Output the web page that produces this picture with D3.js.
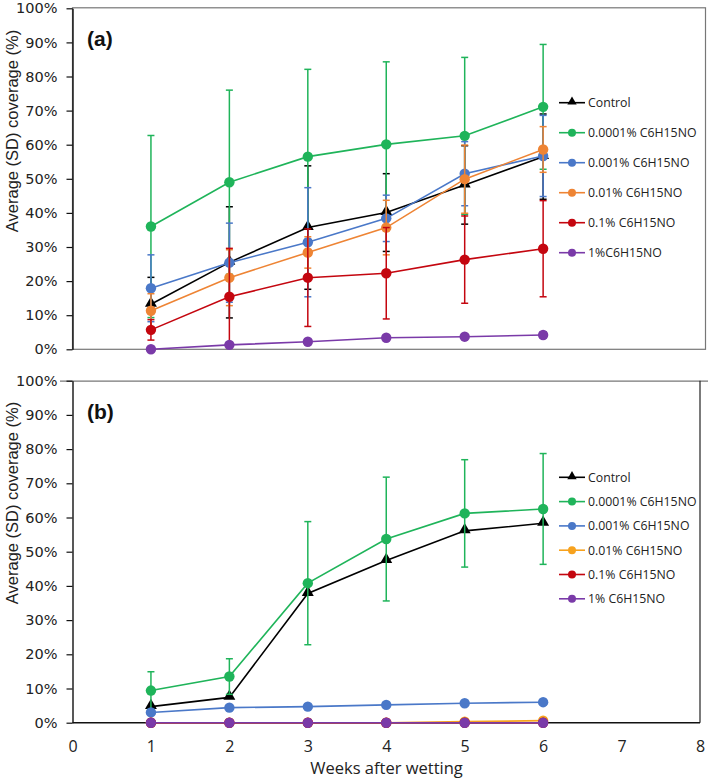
<!DOCTYPE html>
<html><head><meta charset="utf-8">
<script src="https://cdn.jsdelivr.net/npm/d3@7"></script>
<style>body{margin:0;background:#fff}svg{display:block}</style>
</head><body>
<svg id="chart" width="708" height="780"></svg>
<script>
// ---------- data ----------
const weeks = [1, 2, 3, 4, 5, 6];
const xTicks = [0, 1, 2, 3, 4, 5, 6, 7, 8];
const yTicks = [0, 10, 20, 30, 40, 50, 60, 70, 80, 90, 100];

const labelsA = ["Control", "0.0001% C6H15NO", "0.001% C6H15NO", "0.01% C6H15NO", "0.1% C6H15NO", "1%C6H15NO"];
const labelsB = ["Control", "0.0001% C6H15NO", "0.001% C6H15NO", "0.01% C6H15NO", "0.1% C6H15NO", "1% C6H15NO"];

const colorsA = ["#000000", "#1fb45a", "#4a78c8", "#ee8434", "#c4060f", "#7a3aa8"];
const colorsB = ["#000000", "#1fb45a", "#4a78c8", "#f7a21e", "#c4060f", "#7a3aa8"];

// panel (a) means and SDs (%)
const controlA   = [13.2, 25.5, 35.7, 40.1, 48.2, 56.5];
const controlSdA = [7.9, 16.3, 18.1, 11.4, 11.5, 12.5];
const c0001A     = [36.0, 49.0, 56.5, 60.1, 62.6, 71.1];
const c0001SdA   = [26.7, 27.0, 25.6, 24.2, 23.0, 18.3];
const c001A      = [17.9, 25.4, 31.4, 38.4, 51.5, 56.7];
const c001SdA    = [9.8, 11.6, 16.0, 6.8, 9.4, 11.9];
const c01A       = [11.3, 21.0, 28.4, 35.7, 49.9, 58.6];
const c01SdA     = [5.0, 8.2, 4.6, 8.0, 10.0, 6.7];
const c1A        = [5.7, 15.4, 21.0, 22.3, 26.3, 29.5];
const c1SdA      = [3.0, 14.2, 14.3, 13.4, 12.8, 14.1];
const c10A       = [0.0, 1.3, 2.2, 3.4, 3.7, 4.2];
const c10SdA     = [0.0, 0.3, 0.4, 0.4, 0.5, 0.9];

// panel (b) means and SDs (%)
const controlB   = [4.7, 7.4, 37.8, 47.4, 56.1, 58.3];
const c0001B     = [9.4, 13.5, 40.8, 53.7, 61.2, 62.5];
const c0001SdB   = [5.5, 5.2, 18.0, 18.1, 15.7, 16.2];
const c001B      = [3.0, 4.4, 4.7, 5.2, 5.7, 6.0];
const c01B       = [0.0, 0.0, 0.0, 0.0, 0.3, 0.6];
const c1B        = [0.0, 0.0, 0.0, 0.0, 0.0, 0.0];
const c10B       = [0.0, 0.0, 0.0, 0.0, 0.0, 0.0];

const seriesA = [
  {vals: controlA, sd: controlSdA, tri: true},
  {vals: c0001A, sd: c0001SdA},
  {vals: c001A, sd: c001SdA},
  {vals: c01A, sd: c01SdA},
  {vals: c1A, sd: c1SdA},
  {vals: c10A, sd: c10SdA}
].map((s, i) => ({...s, label: labelsA[i], color: colorsA[i]}));

const seriesB = [
  {vals: controlB, sd: null, tri: true},
  {vals: c0001B, sd: c0001SdB},
  {vals: c001B, sd: null},
  {vals: c01B, sd: null},
  {vals: c1B, sd: null},
  {vals: c10B, sd: null}
].map((s, i) => ({...s, label: labelsB[i], color: colorsB[i]}));

// ---------- drawing ----------
const svg = d3.select("#chart");
const x = d3.scaleLinear().domain([0, 8]).range([72.5, 700]);

function panel(cfg) {
  const y = d3.scaleLinear().domain([0, 100]).range([cfg.y0, cfg.y1]);
  const g = svg.append("g");

  // frame
  if (cfg.name === "a") {
    g.append("rect").attr("x", 72.5).attr("y", cfg.y1 - 0.5).attr("width", 633).attr("height", cfg.y0 - cfg.y1 + 0.5)
      .attr("fill", "none").attr("stroke", "#777").attr("stroke-width", 1.2);
  } else {
    g.append("line").attr("x1", 60).attr("x2", 708).attr("y1", cfg.y1 + 0.5).attr("y2", cfg.y1 + 0.5)
      .attr("stroke", "#777").attr("stroke-width", 1.2);
    g.append("line").attr("x1", 700).attr("x2", 700).attr("y1", cfg.y1).attr("y2", cfg.y0)
      .attr("stroke", "#222").attr("stroke-width", 1.2);
    g.append("line").attr("x1", 72.5).attr("x2", 700).attr("y1", cfg.y0).attr("y2", cfg.y0)
      .attr("stroke", "#111").attr("stroke-width", 1.4);
  }

  // y axis
  const ya = g.append("g").attr("transform", "translate(72.5,0)")
    .call(d3.axisLeft(y).tickValues(yTicks).tickFormat(d => d + "%").tickSizeInner(6).tickSizeOuter(0).tickPadding(8));
  ya.select(".domain").attr("stroke", "#111").attr("stroke-width", 1.4);
  ya.selectAll(".tick line").attr("stroke", "#111").attr("stroke-width", 1.2);
  ya.selectAll(".tick text").attr("font-family", "DejaVu Sans, Verdana, sans-serif").attr("font-size", 14.5)
    .attr("fill", "#222").attr("x", -15);

  // y title
  g.append("text").attr("transform", `translate(18,${cfg.titleY}) rotate(-90)`)
    .attr("text-anchor", "middle").attr("font-family", "Liberation Sans Narrow, Arial Narrow, sans-serif")
    .attr("font-size", 16.5).attr("fill", "#222").text("Average (SD) coverage (%)");

  // panel label
  g.append("text").attr("x", 87).attr("y", cfg.y1 + 38).attr("font-family", "Liberation Sans, Arial, sans-serif")
    .attr("font-weight", "bold").attr("font-size", 21).attr("fill", "#111").text(`(${cfg.name})`);

  const line = d3.line().x((d, i) => x(weeks[i])).y(d => y(d));

  cfg.series.forEach(s => {
    const sg = g.append("g");
    sg.append("path").attr("d", line(s.vals)).attr("fill", "none").attr("stroke", s.color).attr("stroke-width", 1.6);
    if (s.sd) {
      s.vals.forEach((v, i) => {
        const sdv = s.sd[i];
        if (!sdv) return;
        const cx = x(weeks[i]);
        const top = y(Math.min(100, v + sdv)), bot = y(Math.max(0, v - sdv));
        sg.append("line").attr("x1", cx).attr("x2", cx).attr("y1", top).attr("y2", bot).attr("stroke", s.color).attr("stroke-width", 1.5);
        [top, bot].forEach(yy => sg.append("line").attr("x1", cx - 3.5).attr("x2", cx + 3.5).attr("y1", yy).attr("y2", yy)
          .attr("stroke", s.color).attr("stroke-width", 1.5));
      });
    }
    s.vals.forEach((v, i) => {
      if (s.tri) {
        sg.append("path").attr("d", d3.symbol(d3.symbolTriangle, 62)())
          .attr("transform", `translate(${x(weeks[i])},${y(v) - 1})`).attr("fill", s.color);
      } else {
        sg.append("circle").attr("cx", x(weeks[i])).attr("cy", y(v)).attr("r", 5.2).attr("fill", s.color);
      }
    });
  });

  // legend
  const lg = g.append("g");
  cfg.series.forEach((s, i) => {
    const ly = cfg.legY + i * cfg.legStep;
    lg.append("line").attr("x1", 559).attr("x2", 585).attr("y1", ly).attr("y2", ly).attr("stroke", s.color).attr("stroke-width", 1.6);
    if (s.tri) {
      lg.append("path").attr("d", d3.symbol(d3.symbolTriangle, 38)()).attr("transform", `translate(572,${ly - 0.8})`).attr("fill", s.color);
    } else {
      lg.append("circle").attr("cx", 572).attr("cy", ly).attr("r", 4).attr("fill", s.color);
    }
    lg.append("text").attr("x", 588).attr("y", ly + 4.3).attr("font-family", "Open Sans, sans-serif")
      .attr("font-size", 12.3).attr("fill", "#222").text(s.label);
  });
  return y;
}

panel({name: "a", y0: 349.3, y1: 8.3, series: seriesA, legY: 102.7, legStep: 30, titleY: 131});
panel({name: "b", y0: 722.7, y1: 380.7, series: seriesB, legY: 477.3, legStep: 24.3, titleY: 503});

// x axis labels (panel b)
const xa = svg.append("g").attr("transform", "translate(0,722.7)")
  .call(d3.axisBottom(x).tickValues(xTicks).tickFormat(d3.format("d")).tickSize(0).tickPadding(18));
xa.select(".domain").remove();
xa.selectAll(".tick text").attr("font-family", "Open Sans, sans-serif").attr("font-size", 16).attr("fill", "#222");

svg.append("text").attr("x", 386.5).attr("y", 774).attr("text-anchor", "middle")
  .attr("font-family", "Open Sans, sans-serif").attr("font-size", 16.5).attr("fill", "#222").text("Weeks after wetting");
</script>
</body></html>
